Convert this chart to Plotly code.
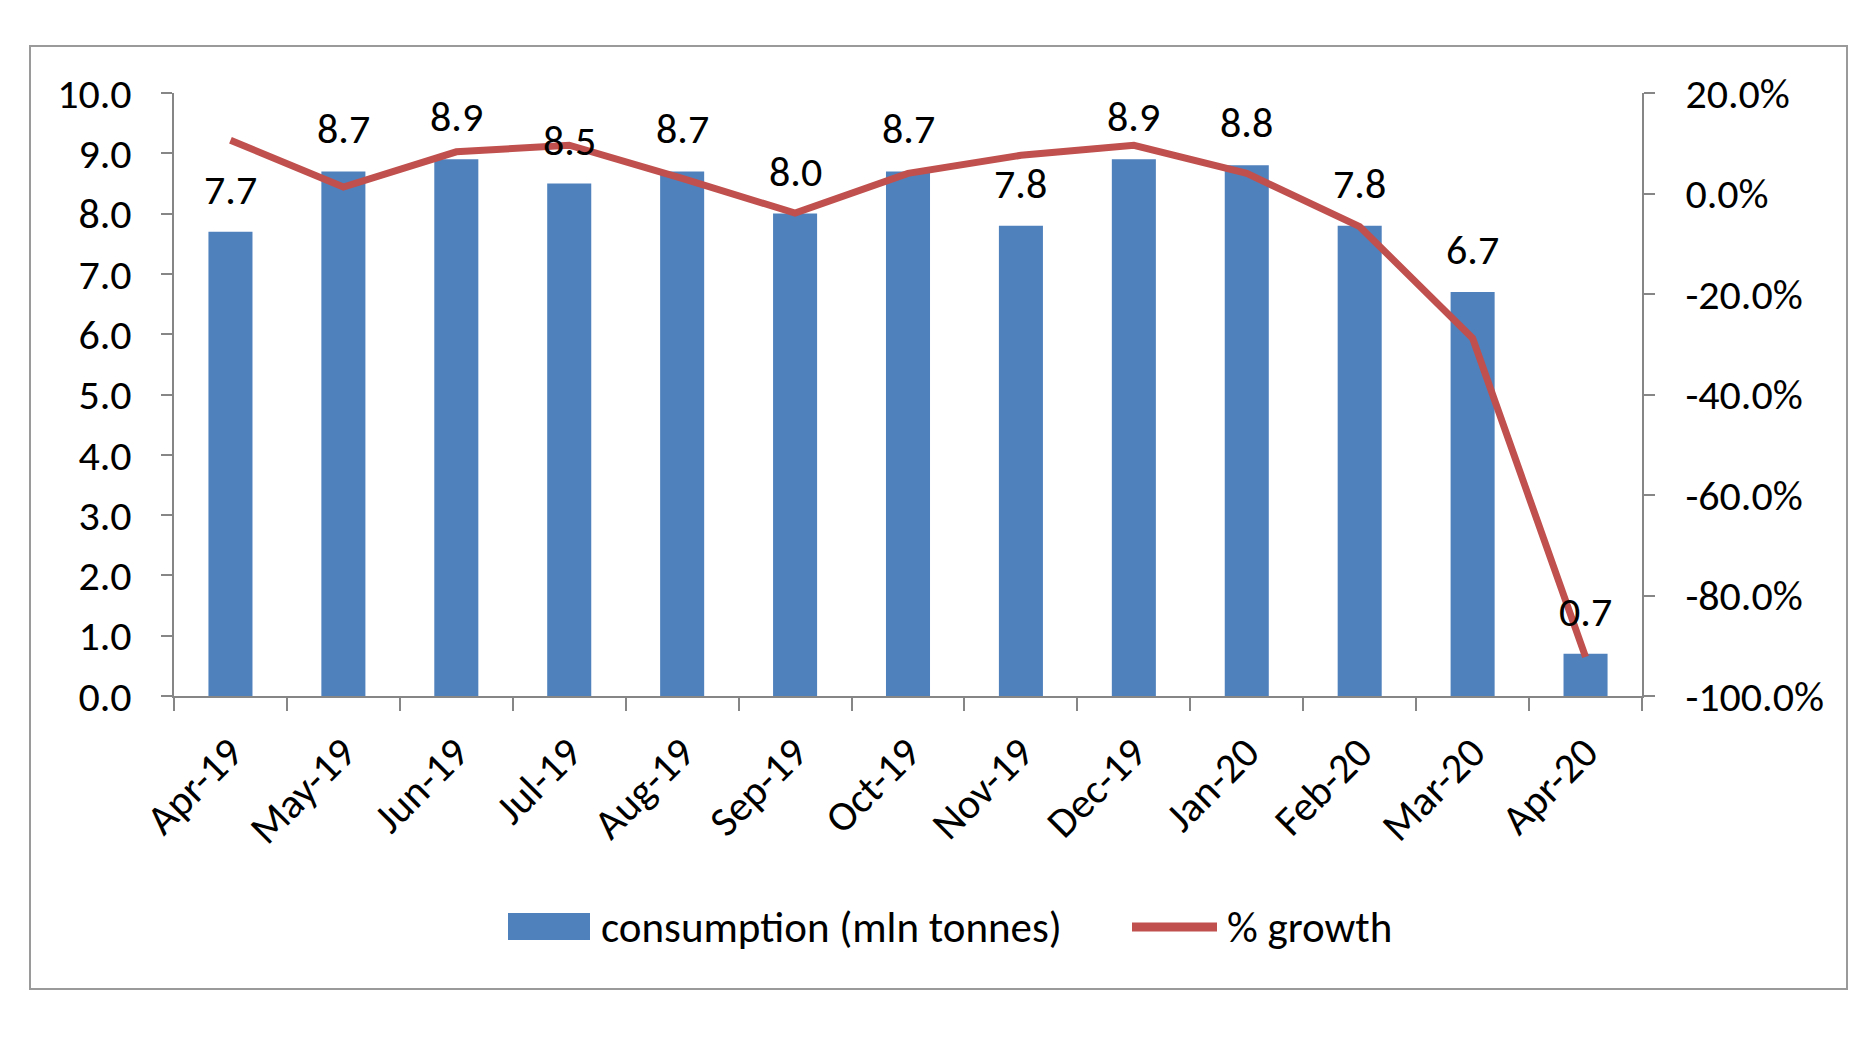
import plotly.graph_objects as go

months = ["Apr-19", "May-19", "Jun-19", "Jul-19", "Aug-19", "Sep-19", "Oct-19",
          "Nov-19", "Dec-19", "Jan-20", "Feb-20", "Mar-20", "Apr-20"]
consumption = [7.7, 8.7, 8.9, 8.5, 8.7, 8.0, 8.7, 7.8, 8.9, 8.8, 7.8, 6.7, 0.7]
growth_pct = [10.6, 1.3, 8.3, 9.6, 3.0, -3.9, 4.0, 7.6, 9.6, 4.0, -6.6, -28.8, -92.2]

left_ticks = [0, 1, 2, 3, 4, 5, 6, 7, 8, 9, 10]
right_ticks = [-100, -80, -60, -40, -20, 0, 20]

FONT = "Carlito, 'Liberation Sans Narrow', 'Open Sans', sans-serif"
FS = 42
BLUE = "#4F81BD"
RED = "#C0504D"
AXIS = "#868686"

# page body has an 8px margin, so the figure is sized to fit inside it
W, H = 1840, 1043
ML, MR, MT, MB = 166, 206, 85, 355
pw = W - ML - MR
ph = H - MT - MB


def px_x(p):
    return (p - ML) / pw


def px_y(p):
    return (H - MB - p) / ph


fig = go.Figure()
fig.add_trace(go.Bar(
    x=months, y=consumption, name="consumption (mln tonnes)",
    marker=dict(color=BLUE, line=dict(width=0)), yaxis="y", showlegend=False,
))
fig.add_trace(go.Scatter(
    x=months, y=growth_pct, name="% growth", mode="lines",
    line=dict(color=RED, width=7), yaxis="y2", showlegend=False,
))

for m, v in zip(months, consumption):
    fig.add_annotation(x=m, y=v, xref="x", yref="y", text=f"{v:.1f}",
                       showarrow=False, yanchor="bottom", yshift=15,
                       font=dict(family=FONT, size=FS, color="black"))

# outer chart border
fig.add_shape(type="rect", xref="paper", yref="paper",
              x0=px_x(22), x1=px_x(1839), y0=px_y(981), y1=px_y(38),
              line=dict(color="#9a9a9a", width=2), fillcolor="rgba(0,0,0,0)", layer="below")

# legend (drawn to match the large Excel-style legend keys)
fig.add_shape(type="rect", xref="paper", yref="paper",
              x0=px_x(500), x1=px_x(582), y0=px_y(932), y1=px_y(905),
              line=dict(width=0), fillcolor=BLUE)
fig.add_annotation(xref="paper", yref="paper", x=px_x(591), y=px_y(919),
                   xanchor="left", yanchor="middle", showarrow=False,
                   text="consumption (mln tonnes)",
                   font=dict(family=FONT, size=43, color="black"))
fig.add_shape(type="line", xref="paper", yref="paper",
              x0=px_x(1124), x1=px_x(1209), y0=px_y(919), y1=px_y(919),
              line=dict(color=RED, width=9))
fig.add_annotation(xref="paper", yref="paper", x=px_x(1217), y=px_y(919),
                   xanchor="left", yanchor="middle", showarrow=False,
                   text="% growth",
                   font=dict(family=FONT, size=43, color="black"))

fig.update_layout(
    width=W, height=H,
    margin=dict(l=ML, r=MR, t=MT, b=MB),
    paper_bgcolor="white", plot_bgcolor="white",
    font=dict(family=FONT, size=FS, color="black"),
    bargap=0.61,
    showlegend=False,
    xaxis=dict(
        type="category", tickangle=-45, showline=True, linecolor=AXIS, linewidth=2,
        ticks="outside", ticklen=13, tickcolor=AXIS, tickwidth=2, tickson="boundaries",
        showgrid=False, zeroline=False, ticklabelstandoff=13,
        tickfont=dict(family=FONT, size=FS),
    ),
    yaxis=dict(
        range=[0, 10], tickvals=left_ticks, tickformat=".1f",
        showline=True, linecolor=AXIS, linewidth=2, ticks="outside", ticklen=11,
        tickcolor=AXIS, tickwidth=2, showgrid=False, zeroline=False,
        ticklabelstandoff=21, tickfont=dict(family=FONT, size=FS),
    ),
    yaxis2=dict(
        range=[-100, 20], tickvals=right_ticks,
        ticktext=[f"{v:.1f}%" for v in right_ticks],
        overlaying="y", side="right",
        showline=True, linecolor=AXIS, linewidth=2, ticks="outside", ticklen=11,
        tickcolor=AXIS, tickwidth=2, showgrid=False, zeroline=False,
        ticklabelstandoff=22, tickfont=dict(family=FONT, size=FS),
    ),
)

fig.write_html("out.html")
